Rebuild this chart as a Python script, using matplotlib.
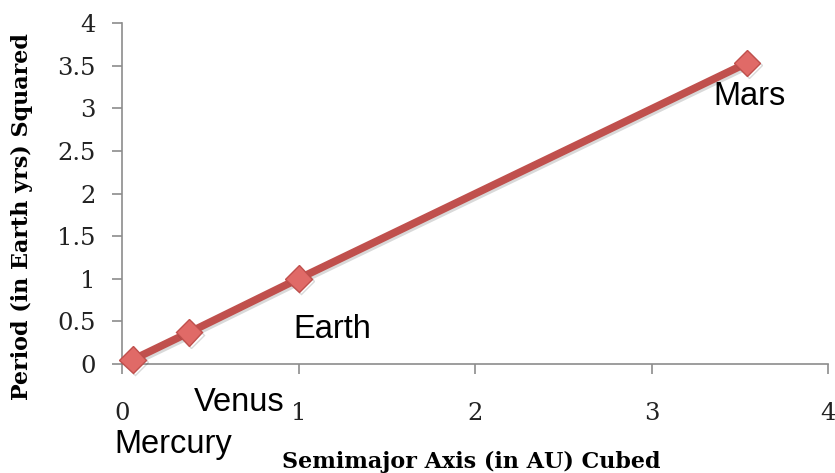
import matplotlib
matplotlib.use("Agg")
import matplotlib.pyplot as plt
import matplotlib.patheffects as pe

# Data
planets = ["Mercury", "Venus", "Earth", "Mars"]
a_cubed = [0.06, 0.38, 1.0, 3.54]
p_squared = [0.05, 0.37, 1.0, 3.53]
x_ticks = [0, 1, 2, 3, 4]
y_ticks = [0, 0.5, 1, 1.5, 2, 2.5, 3, 3.5, 4]
y_tick_labels = ["0", "0.5", "1", "1.5", "2", "2.5", "3", "3.5", "4"]

# Label offsets (pixels) from each point
label_offsets = [(41, -85), (50, -70), (34, -51), (3, -33)]

fig = plt.figure(figsize=(8.35, 4.73), dpi=100)
ax = fig.add_axes([122/835, 1-364/473, (828-122)/835, (364-23)/473])

line_color = "#C0504D"
ax.plot(a_cubed, p_squared, color=line_color, lw=5.5, solid_capstyle="butt",
        marker="D", markersize=13.5, markerfacecolor="#E06A67",
        markeredgecolor="#C0504D", markeredgewidth=1,
        path_effects=[pe.SimpleLineShadow(offset=(1.5, -1.5), alpha=0.15), pe.Normal()],
        zorder=3, clip_on=False)

for name, x, y, off in zip(planets, a_cubed, p_squared, label_offsets):
    ax.annotate(name, (x, y), xytext=off, textcoords="offset pixels",
                ha="center", va="center", fontsize=23.5,
                family="Liberation Sans", color="black", annotation_clip=False)

ax.set_xlim(0, 4)
ax.set_ylim(0, 4)
ax.set_xticks(x_ticks)
ax.set_yticks(y_ticks)
ax.set_yticklabels(y_tick_labels)

for s in ["top", "right"]:
    ax.spines[s].set_visible(False)
for s in ["left", "bottom"]:
    ax.spines[s].set_color("#8C8C8C")
    ax.spines[s].set_linewidth(1.2)

ax.tick_params(axis="both", direction="out", color="#8C8C8C", width=1.2,
               length=7, labelsize=17.5)
ax.tick_params(axis="x", pad=20)
ax.tick_params(axis="y", pad=12)
for lab in ax.get_xticklabels() + ax.get_yticklabels():
    lab.set_family("DejaVu Serif")
    lab.set_color("#222222")

ax.set_xlabel("Semimajor Axis (in AU) Cubed", family="DejaVu Serif",
              fontweight="bold", fontsize=16, va="center")
ax.xaxis.set_label_coords(0.494, -0.287)
ax.set_ylabel("Period (in Earth yrs) Squared", family="DejaVu Serif",
              fontweight="bold", fontsize=16, va="center")
ax.yaxis.set_label_coords(-0.142, 0.431)

fig.savefig("out.png", dpi=100)
